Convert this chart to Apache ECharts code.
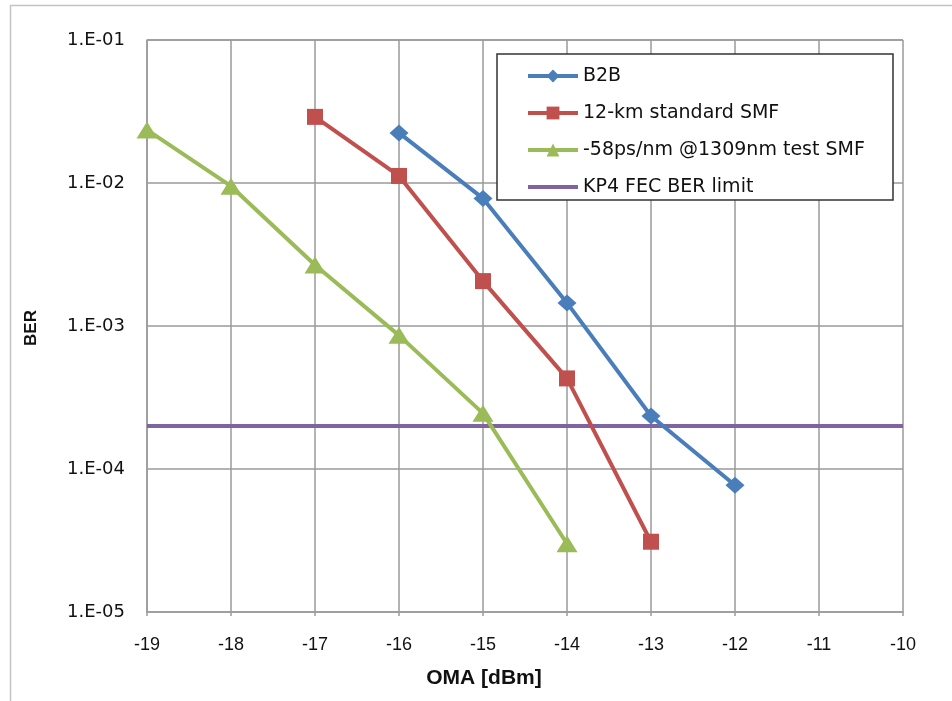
<!DOCTYPE html>
<html>
<head>
<meta charset="utf-8">
<script src="https://cdn.jsdelivr.net/npm/echarts@6/dist/echarts.min.js"></script>
<style>
  html, body { margin: 0; padding: 0; background: #fff; }
  #chart { width: 952px; height: 701px; }
</style>
</head>
<body>
<div id="chart"></div>
<script>
// OMA sweep points (dBm) and measured BER per link configuration
const omaB2B = [-16, -15, -14, -13, -12];
const berB2B = [2.24e-2, 7.8e-3, 1.45e-3, 2.35e-4, 7.7e-5];

const omaStdSMF = [-17, -16, -15, -14, -13];
const berStdSMF = [2.9e-2, 1.12e-2, 2.06e-3, 4.3e-4, 3.1e-5];

const omaTestSMF = [-19, -18, -17, -16, -15, -14];
const berTestSMF = [2.35e-2, 9.5e-3, 2.67e-3, 8.6e-4, 2.45e-4, 3.0e-5];

const fecLimitX = [-19, -10];
const fecLimitBER = 2e-4;

const seriesNames = ['B2B', '12-km standard SMF', '-58ps/nm @1309nm test SMF', 'KP4 FEC BER limit'];
const yTickLabels = ['1.E-05', '1.E-04', '1.E-03', '1.E-02', '1.E-01'];
const xMin = -19, xMax = -10;

const zip = (xs, ys) => xs.map((x, i) => [x, ys[i]]);

const chart = echarts.init(document.getElementById('chart'), null, { renderer: 'canvas' });

const gridColor = '#9a9a9a';
const plotLeft = 147, plotRight = 903, plotTop = 40, plotBottom = 612;

chart.setOption({
  backgroundColor: '#fff',
  animation: false,
  grid: {
    left: plotLeft, right: 952 - plotRight, top: plotTop, bottom: 701 - plotBottom,
    containLabel: false
  },
  xAxis: {
    type: 'value',
    min: xMin, max: xMax, interval: 1,
    axisLine: { show: true, lineStyle: { color: gridColor, width: 1.5 } },
    axisTick: { show: true, length: 4, lineStyle: { color: gridColor, width: 1.5 } },
    splitLine: { show: true, lineStyle: { color: gridColor, width: 1.5 } },
    axisLabel: {
      margin: 24,
      fontFamily: 'Liberation Sans', fontSize: 18, color: '#111'
    }
  },
  yAxis: {
    type: 'log', logBase: 10,
    min: 1e-5, max: 1e-1,
    axisLine: { show: true, lineStyle: { color: gridColor, width: 1.5 } },
    axisTick: { show: false },
    splitLine: { show: true, lineStyle: { color: gridColor, width: 1.5 } },
    axisLabel: {
      margin: 22,
      fontFamily: 'DejaVu Sans', fontSize: 18, color: '#111',
      formatter: (v) => {
        const e = Math.round(Math.log10(v));
        return yTickLabels[e + 5];
      }
    }
  },
  legend: {
    show: true,
    orient: 'vertical',
    left: 521, top: 60,
    itemWidth: 50, itemHeight: 16,
    itemGap: 15,
    z: 20,
    lineStyle: { width: 4 },
    data: [
      { name: seriesNames[0] },
      { name: seriesNames[1] },
      { name: seriesNames[2] },
      { name: seriesNames[3], itemStyle: { opacity: 0 } }
    ],
    textStyle: { fontFamily: 'DejaVu Sans', fontSize: 19, color: '#111', lineHeight: 22 }
  },
  graphic: [
    // outer frame edges
    { type: 'line', shape: { x1: 10.5, y1: 5, x2: 10.5, y2: 701 }, style: { stroke: '#c4c4c4', lineWidth: 1.5 }, z: 0 },
    { type: 'line', shape: { x1: 10, y1: 5.5, x2: 952, y2: 5.5 }, style: { stroke: '#c4c4c4', lineWidth: 1.5 }, z: 0 },
    // legend frame
    { type: 'rect', shape: { x: 497, y: 54, width: 396, height: 146 },
      style: { fill: '#fff', stroke: '#333', lineWidth: 1.5 }, z: 1 },
    // axis titles
    { type: 'text', x: 484, y: 678,
      style: { text: 'OMA [dBm]', font: 'bold 21px "Liberation Sans"', fill: '#111', align: 'center', verticalAlign: 'middle' } },
    { type: 'text', x: 31, y: 328, rotation: Math.PI / 2,
      style: { text: 'BER', font: 'bold 17px "Liberation Sans"', fill: '#111', align: 'center', verticalAlign: 'middle' } }
  ],
  series: [
    {
      name: seriesNames[0], type: 'line',
      data: zip(omaB2B, berB2B),
      symbol: 'diamond', symbolSize: [19, 17],
      lineStyle: { color: '#4a7ebb', width: 4 },
      itemStyle: { color: '#4a7ebb' },
      z: 4
    },
    {
      name: seriesNames[1], type: 'line',
      data: zip(omaStdSMF, berStdSMF),
      symbol: 'rect', symbolSize: 16,
      lineStyle: { color: '#c0504d', width: 4 },
      itemStyle: { color: '#c0504d' },
      z: 3
    },
    {
      name: seriesNames[2], type: 'line',
      data: zip(omaTestSMF, berTestSMF),
      symbol: 'triangle', symbolSize: [21, 17],
      lineStyle: { color: '#9bbb59', width: 4 },
      itemStyle: { color: '#9bbb59' },
      z: 3
    },
    {
      name: seriesNames[3], type: 'line',
      data: fecLimitX.map(x => [x, fecLimitBER]),
      symbol: 'none',
      lineStyle: { color: '#8064a2', width: 4 },
      itemStyle: { color: '#8064a2' },
      z: 2
    }
  ]
});
</script>
</body>
</html>
